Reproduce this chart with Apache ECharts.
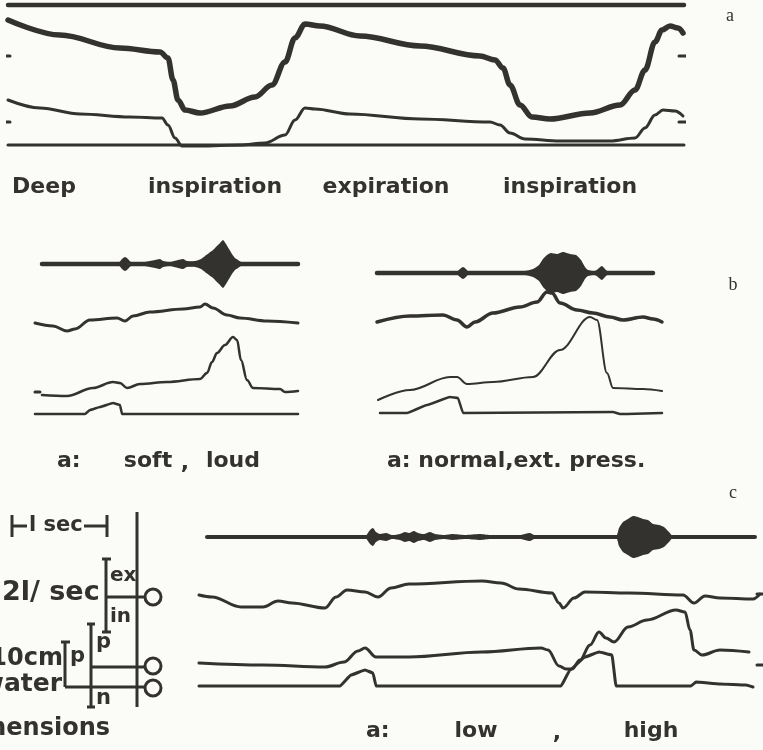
<!DOCTYPE html>
<html>
<head>
<meta charset="utf-8">
<script src="https://cdn.jsdelivr.net/npm/echarts@6/dist/echarts.min.js"></script>
<style>
    html, body { margin: 0; padding: 0; background: #fbfbf7; }
    #chart { width: 763px; height: 750px; }
</style>
</head>
<body>
<div id="chart"></div>
<script>
    var ink = '#33322e';

    // a: deep breathing (units = panel px, y upward)
    var aTop = [[0, 145], [676, 145]];
    var aUpper = [[0, 130], [52, 115], [112, 102], [152, 98], [160, 92], [165, 70], [170, 50], [177, 40], [192, 37], [222, 44], [247, 53], [264, 65], [277, 88], [287, 112], [297, 126], [312, 124], [352, 114], [412, 104], [472, 94], [487, 90], [495, 82], [502, 65], [512, 45], [524, 33], [542, 31], [582, 37], [612, 45], [627, 60], [637, 80], [647, 108], [654, 120], [662, 124], [670, 122], [675, 117]];
    var aLower = [[0, 50], [32, 42], [72, 36], [122, 33], [154, 32], [160, 25], [167, 12], [174, 4], [192, 4], [232, 5], [257, 7], [277, 15], [287, 30], [297, 42], [307, 41], [342, 36], [412, 31], [482, 28], [492, 25], [502, 17], [517, 11], [552, 9], [602, 9], [627, 12], [637, 22], [647, 35], [655, 40], [667, 39], [675, 34]];
    var aBase = [[0, 5], [676, 5]];
    var aTicks = [[-3, 2, 94], [-3, 2, 28], [671, 678, 94], [671, 678, 28]];

    // b left: soft, loud
    var blSoundY = 166;
    var blSound = [[7, blSoundY], [263, blSoundY]];
    var blBurst = [[84, 0], [87, 4], [90, 6], [93, 4], [96, 1], [110, 1], [115, 2], [120, 3], [125, 4], [128, 2], [135, 1], [143, 3], [148, 4], [152, 2], [160, 2], [166, 4], [170, 7], [174, 10], [178, 13], [182, 17], [185, 20], [188, 23], [191, 19], [194, 14], [197, 9], [200, 5], [203, 3], [206, 1], [210, 0]];
    var blFlow = [[0, 107], [18, 104], [32, 99], [40, 101], [55, 110], [82, 112], [90, 109], [98, 114], [115, 118], [148, 121], [165, 123], [170, 126], [178, 122], [192, 115], [205, 112], [232, 109], [263, 107]];
    var blPressDash = [[0, 38], [5, 38]];
    var blPress = [[7, 35], [32, 34], [58, 42], [78, 48], [85, 47], [92, 42], [105, 46], [132, 48], [165, 51], [172, 57], [177, 68], [182, 77], [190, 85], [198, 93], [202, 90], [206, 70], [212, 50], [218, 42], [245, 41], [250, 38], [263, 39]];
    var blN = [[0, 16], [50, 16], [55, 20], [65, 23], [78, 27], [85, 25], [87, 16], [263, 16]];

    // b right: normal, ext. press.
    var brSoundY = 157;
    var brSound = [[2, brSoundY], [278, brSoundY]];
    var brBurst = [[82, 0], [85, 3], [88, 5], [91, 3], [94, 0], [140, 0], [150, 1], [158, 3], [164, 7], [168, 13], [172, 17], [176, 19], [182, 18], [188, 20], [195, 18], [201, 17], [206, 12], [210, 5], [213, 2], [220, 1], [224, 4], [227, 6], [230, 3], [233, 0]];
    var brFlow = [[2, 108], [35, 114], [68, 115], [82, 110], [92, 103], [100, 108], [118, 117], [145, 123], [162, 128], [172, 138], [177, 137], [185, 127], [202, 120], [218, 117], [235, 113], [248, 110], [268, 113], [278, 111], [287, 108]];
    var brPress = [[3, 30], [35, 40], [75, 53], [82, 53], [92, 46], [118, 48], [158, 53], [185, 80], [215, 113], [222, 110], [232, 57], [238, 42], [268, 41], [287, 39]];
    var brN = [[5, 17], [32, 17], [52, 25], [75, 33], [83, 32], [88, 17], [238, 18], [245, 16], [252, 16], [287, 17]];

    // c: low, high
    var cSoundY = 173;
    var cSound = [[17, cSoundY], [565, cSoundY]];
    var cBurst = [[176, 0], [180, 6], [183, 8], [186, 4], [190, 2], [196, 3], [202, 1], [210, 2], [215, 4], [219, 3], [224, 5], [228, 3], [234, 2], [240, 4], [245, 2], [255, 1], [262, 2], [275, 1], [290, 2], [300, 1], [330, 1], [340, 3], [344, 1], [352, 0], [426, 0], [429, 8], [433, 14], [438, 17], [443, 20], [448, 19], [453, 17], [458, 16], [463, 12], [469, 11], [474, 9], [479, 4], [482, 0]];
    var cFlow = [[9, 115], [22, 113], [51, 103], [73, 103], [88, 109], [102, 107], [135, 102], [146, 113], [157, 120], [175, 118], [188, 113], [201, 122], [219, 126], [292, 129], [311, 127], [329, 121], [362, 117], [369, 107], [373, 102], [384, 112], [395, 118], [439, 117], [493, 115], [504, 107], [515, 114], [530, 112], [563, 111], [570, 116]];
    var cPress = [[9, 47], [73, 45], [135, 43], [154, 48], [168, 59], [175, 62], [186, 53], [219, 53], [292, 58], [351, 62], [358, 60], [369, 44], [376, 41], [382, 41], [390, 50], [400, 65], [409, 78], [416, 72], [424, 68], [438, 83], [457, 90], [486, 100], [495, 98], [500, 80], [504, 60], [512, 55], [530, 60], [559, 58]];
    var cN = [[9, 24], [150, 24], [161, 35], [175, 40], [183, 37], [186, 24], [371, 24], [380, 40], [395, 53], [409, 58], [422, 55], [426, 24], [501, 24], [506, 28], [530, 26], [556, 25], [563, 23]];
    var cTicks = [[567, 573, 116], [567, 573, 45]];

    var grids = [
        {left: 8, top: 0, width: 676, height: 150},
        {left: 35, top: 230, width: 265, height: 200},
        {left: 375, top: 230, width: 290, height: 200},
        {left: 190, top: 480, width: 573, height: 230}
    ];

    function trace(data, g, w, smooth) {
        return {
            type: 'line', xAxisIndex: g, yAxisIndex: g, data: data,
            showSymbol: false, silent: true, clip: false,
            smooth: smooth === undefined ? 0.35 : smooth, smoothMonotone: 'x',
            lineStyle: {color: ink, width: w, cap: 'round', join: 'round'}
        };
    }

    function burst(env, center, g) {
        return {
            type: 'custom', xAxisIndex: g, yAxisIndex: g, silent: true, clip: false,
            data: [[env[0][0], center]],
            renderItem: function (params, api) {
                var up = [], down = [];
                env.forEach(function (p) {
                    up.push(api.coord([p[0], center + p[1] + 1]));
                    down.unshift(api.coord([p[0], center - p[1] - 1]));
                });
                return {type: 'polygon', shape: {points: up.concat(down), smooth: 0.2}, style: {fill: ink}};
            }
        };
    }

    function ticks(list, g) {
        return list.map(function (t) {
            return trace([[t[0], t[2]], [t[1], t[2]]], g, 3, 0);
        });
    }

    function txt(s, x, y, size, align, family, weight) {
        return {
            type: 'text', x: x, y: y, silent: true,
            style: {
                text: s, fill: ink, align: align || 'left', verticalAlign: 'middle',
                font: (weight || 'bold') + ' ' + size + 'px ' + (family || '"DejaVu Sans"')
            }
        };
    }

    function seg(x1, y1, x2, y2) {
        return {type: 'line', silent: true, shape: {x1: x1, y1: y1, x2: x2, y2: y2}, style: {stroke: ink, lineWidth: 3}};
    }

    function ring(x, y) {
        return {type: 'circle', silent: true, shape: {cx: x, cy: y, r: 8}, style: {stroke: ink, lineWidth: 3, fill: 'none'}};
    }

    var series = [
        trace(aTop, 0, 4.5), trace(aUpper, 0, 5.5), trace(aLower, 0, 3), trace(aBase, 0, 3),
        trace(blSound, 1, 4.5), burst(blBurst, blSoundY, 1), trace(blFlow, 1, 3), trace(blPressDash, 1, 3, 0),
        trace(blPress, 1, 2.5), trace(blN, 1, 2.5, 0.1),
        trace(brSound, 2, 4.5), burst(brBurst, brSoundY, 2), trace(brFlow, 2, 3.5), trace(brPress, 2, 2),
        trace(brN, 2, 2.5, 0.1),
        trace(cSound, 3, 4), burst(cBurst, cSoundY, 3), trace(cFlow, 3, 3), trace(cPress, 3, 3),
        trace(cN, 3, 3, 0.1)
    ].concat(ticks(aTicks, 0), ticks(cTicks, 3));

    var graphic = [
        txt('a', 730, 16, 18, 'center', '"Liberation Serif"', 'normal'),
        txt('b', 733, 285, 18, 'center', '"Liberation Serif"', 'normal'),
        txt('c', 733, 493, 18, 'center', '"Liberation Serif"', 'normal'),

        txt('Deep', 44, 187, 22, 'center'),
        txt('inspiration', 215, 187, 22, 'center'),
        txt('expiration', 386, 187, 22, 'center'),
        txt('inspiration', 570, 187, 22, 'center'),

        txt('a:', 57, 461, 22),
        txt('soft', 148, 461, 22, 'center'),
        txt(',', 185, 463, 22, 'center'),
        txt('loud', 233, 461, 22, 'center'),
        txt('a: normal,ext. press.', 387, 461, 22),

        txt('a:', 366, 731, 22),
        txt('low', 476, 731, 22, 'center'),
        txt(',', 557, 733, 22, 'center'),
        txt('high', 651, 731, 22, 'center'),

        // calibration diagram
        seg(12, 515, 12, 537), seg(12, 526, 27, 526),
        txt('l sec', 29, 526, 21),
        seg(84, 526, 107, 526), seg(107, 515, 107, 537),
        seg(137, 512, 137, 707),
        seg(106, 559, 106, 632), seg(102, 559, 111, 559), seg(102, 632, 111, 632),
        seg(106, 597, 145, 597), ring(153, 597),
        txt('ex', 110, 576, 20), txt('in', 110, 617, 20),
        txt('2l/ sec', 2, 593, 27),
        seg(91, 624, 91, 707), seg(87, 624, 95, 624), seg(87, 707, 95, 707),
        seg(91, 667, 145, 667), ring(153, 666),
        txt('p', 96, 643, 21), txt('n', 96, 699, 21),
        seg(65, 642, 65, 687), seg(61, 642, 70, 642), seg(65, 687, 145, 687), ring(153, 688),
        txt('p', 70, 657, 21),
        txt('10cm', 63, 659, 24, 'right'),
        txt('water', 62, 684, 25, 'right'),
        txt('Dimensions', 110, 729, 24, 'right')
    ];

    var chart = echarts.init(document.getElementById('chart'));
    chart.setOption({
        backgroundColor: '#fbfbf7',
        animation: false,
        grid: grids,
        xAxis: grids.map(function (g, i) {
            return {type: 'value', gridIndex: i, min: 0, max: g.width, show: false};
        }),
        yAxis: grids.map(function (g, i) {
            return {type: 'value', gridIndex: i, min: 0, max: g.height, show: false};
        }),
        series: series,
        graphic: graphic
    });
</script>
</body>
</html>
